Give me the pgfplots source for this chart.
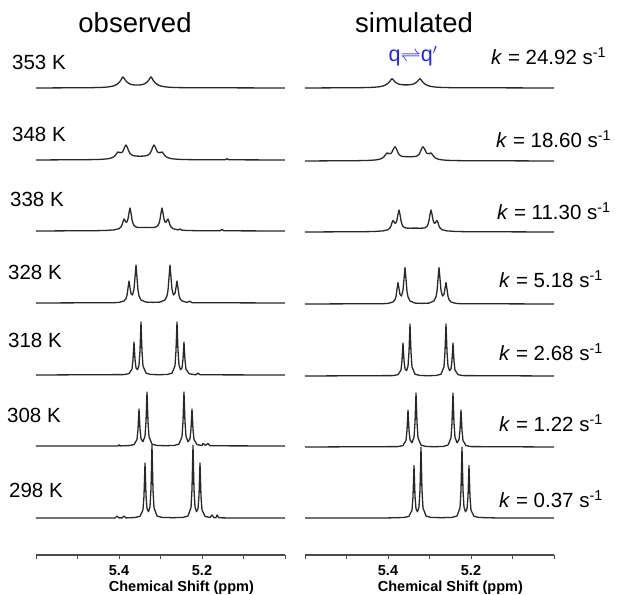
\documentclass[border=0pt]{standalone}
\usepackage{pgfplots}
\pgfplotsset{compat=1.18}
\usepackage{pgfplotstable}
\usepackage{fontspec}
\setmainfont{Liberation Sans}

\definecolor{trace}{RGB}{40,40,40}
\definecolor{qblue}{RGB}{35,35,245}

% ---------- observed spectra: shift (ppm), intensity above baseline ----------
\pgfplotstableread{
x y
5.600 0
5.4096 0
5.4048 2
5.4000 0.1
5.3928 0.1
5.3880 2
5.3831 0.1
5.3614 0.5
5.3494 1.7
5.3422 8.0
5.3398 21.8
5.3373 54.9
5.3349 22.4
5.3325 9.3
5.3289 6.3
5.3253 11.3
5.3229 29.0
5.3205 72.7
5.3181 28.6
5.3157 10.4
5.3084 2.0
5.2964 0.6
5.2711 0.3
5.2458 0.6
5.2337 2.0
5.2265 10.4
5.2241 28.6
5.2217 72.7
5.2193 29.0
5.2169 11.3
5.2133 6.3
5.2096 9.3
5.2072 22.4
5.2048 54.9
5.2024 21.8
5.2000 8.0
5.1928 1.7
5.1807 0.5
5.1759 3
5.1711 0.3
5.1663 0.3
5.1639 3
5.1590 0.2
5.1446 0.1
5.000 0
}\oA
\pgfplotstableread{
x y
5.600 0
5.4024 0
5.4000 1.2
5.3976 0.1
5.3759 0.4
5.3639 1.4
5.3566 6.5
5.3542 16.7
5.3518 37.0
5.3494 17.1
5.3470 7.3
5.3422 4.3
5.3373 9.8
5.3349 24.5
5.3325 54.0
5.3301 24.3
5.3277 9.3
5.3205 1.9
5.3084 0.5
5.2879 0.3
5.2675 0.5
5.2554 1.9
5.2482 9.3
5.2458 24.3
5.2434 54.0
5.2410 24.5
5.2386 9.8
5.2337 4.3
5.2289 7.3
5.2265 17.1
5.2241 37.0
5.2217 16.7
5.2193 6.5
5.2120 1.4
5.2000 0.4
5.1976 2.5
5.1916 0.7
5.1855 2.5
5.1807 0.2
5.000 0
}\oB
\pgfplotstableread{
x y
5.600 0
5.3880 0.4
5.3759 1.3
5.3687 5.9
5.3663 15.1
5.3639 33.0
5.3614 15.6
5.3590 7.1
5.3554 5.3
5.3518 9.8
5.3494 24.2
5.3470 53.0
5.3446 23.9
5.3422 9.1
5.3349 1.8
5.3229 0.5
5.3036 0.3
5.2843 0.5
5.2723 1.8
5.2651 9.1
5.2627 23.9
5.2602 53.0
5.2578 24.2
5.2554 9.8
5.2518 5.3
5.2482 7.1
5.2458 15.6
5.2434 33.0
5.2410 15.1
5.2386 5.9
5.2313 1.3
5.2193 0.4
5.2145 0.2
5.2096 2
5.2048 0.2
5.000 0
}\oC
\pgfplotstableread{
x y
5.600 0
5.4120 0.3
5.4000 0.6
5.3880 2.0
5.3831 4.4
5.3807 7.7
5.3783 14.7
5.3759 22.0
5.3735 15.5
5.3711 9.5
5.3675 8.0
5.3639 13.7
5.3614 25.7
5.3590 38.0
5.3566 25.2
5.3542 12.7
5.3518 7.1
5.3470 3.0
5.3349 0.9
5.3181 0.6
5.3012 0.9
5.2892 3.0
5.2843 7.1
5.2819 12.7
5.2795 25.2
5.2771 38.0
5.2747 25.7
5.2723 13.7
5.2687 8.0
5.2651 9.5
5.2627 15.5
5.2602 22.0
5.2578 14.7
5.2554 7.7
5.2530 4.4
5.2482 2.0
5.2361 0.6
5.2289 1.8
5.2241 0.3
5.000 0
}\oD
\pgfplotstableread{
x y
5.600 0
5.4578 0.3
5.4337 0.5
5.4120 1.1
5.4000 2.3
5.3952 4.1
5.3928 6.0
5.3904 9.3
5.3880 12.0
5.3855 10.5
5.3831 8.7
5.3807 9.1
5.3783 12.1
5.3759 18.3
5.3735 23.0
5.3711 18.0
5.3687 11.4
5.3663 7.6
5.3639 5.6
5.3590 4.0
5.3542 3.6
5.3470 3.5
5.3349 3.6
5.3229 3.5
5.3157 3.6
5.3108 4.0
5.3060 5.6
5.3036 7.6
5.3012 11.4
5.2988 18.0
5.2964 23.0
5.2940 18.3
5.2916 12.1
5.2892 9.1
5.2867 8.7
5.2843 10.5
5.2819 12.0
5.2795 9.3
5.2771 6.0
5.2747 4.1
5.2699 2.3
5.2578 1.1
5.2530 2.0
5.2482 0.8
5.2361 0.5
5.2120 0.3
5.1566 0.2
5.1518 1.5
5.1470 0.2
5.000 0
}\oE
\pgfplotstableread{
x y
5.600 0
5.4699 0.35
5.4458 0.6
5.4313 1.0
5.4217 1.6
5.4145 2.7
5.4096 4.3
5.4072 5.6
5.4048 7.0
5.4024 8.0
5.4000 7.8
5.3976 7.3
5.3928 7.6
5.3904 8.9
5.3880 11.1
5.3855 13.6
5.3831 15.0
5.3807 13.5
5.3783 10.8
5.3759 8.4
5.3735 6.6
5.3687 4.9
5.3639 4.2
5.3566 3.9
5.3494 3.8
5.3422 3.9
5.3349 4.2
5.3301 4.9
5.3253 6.6
5.3229 8.4
5.3205 10.8
5.3181 13.5
5.3157 15.0
5.3133 13.6
5.3108 11.1
5.3084 8.9
5.3060 7.6
5.3012 7.3
5.2988 7.8
5.2964 8.0
5.2940 7.0
5.2916 5.6
5.2892 4.3
5.2843 2.7
5.2771 1.6
5.2675 1.0
5.2530 0.6
5.2289 0.35
5.1446 0.2
5.1398 1.2
5.1349 0.2
5.000 0
}\oF
\pgfplotstableread{
x y
5.600 0
5.4699 0.3
5.4458 0.5
5.4313 0.85
5.4217 1.3
5.4120 2.2
5.4048 3.7
5.4000 5.4
5.3976 6.6
5.3952 8.0
5.3928 9.8
5.3904 11.1
5.3880 9.9
5.3855 8.3
5.3831 6.95
5.3807 5.9
5.3759 4.4
5.3711 3.6
5.3663 3.2
5.3614 3.0
5.3566 3.0
5.3518 3.0
5.3470 3.2
5.3422 3.6
5.3373 4.4
5.3325 5.9
5.3301 6.95
5.3277 8.3
5.3253 9.9
5.3229 11.1
5.3205 9.8
5.3181 8.0
5.3157 6.6
5.3133 5.4
5.3084 3.7
5.3012 2.2
5.2916 1.3
5.2819 0.85
5.2675 0.5
5.2434 0.3
5.000 0
}\oG

% ---------- simulated spectra ----------
\pgfplotstableread{
x y
5.600 0
5.3976 0.1
5.3614 0.5
5.3494 1.7
5.3422 7.8
5.3398 21.0
5.3373 52.5
5.3349 21.6
5.3325 9.1
5.3289 6.2
5.3253 11.0
5.3229 28.2
5.3205 70.8
5.3181 27.8
5.3157 10.1
5.3084 2.0
5.2964 0.6
5.2711 0.3
5.2458 0.6
5.2337 2.0
5.2265 10.1
5.2241 27.8
5.2217 70.8
5.2193 28.2
5.2169 11.0
5.2133 6.2
5.2096 9.1
5.2072 21.6
5.2048 52.5
5.2024 21.0
5.2000 7.8
5.1928 1.7
5.1807 0.5
5.1446 0.1
5.000 0
}\sA
\pgfplotstableread{
x y
5.600 0
5.3759 0.4
5.3639 1.4
5.3566 6.5
5.3542 16.7
5.3518 37.0
5.3494 17.1
5.3470 7.3
5.3422 4.3
5.3373 9.8
5.3349 24.5
5.3325 54.0
5.3301 24.3
5.3277 9.3
5.3205 1.9
5.3084 0.5
5.2879 0.3
5.2675 0.5
5.2554 1.9
5.2482 9.3
5.2458 24.3
5.2434 54.0
5.2410 24.5
5.2386 9.8
5.2337 4.3
5.2289 7.3
5.2265 17.1
5.2241 37.0
5.2217 16.7
5.2193 6.5
5.2120 1.4
5.2000 0.4
5.000 0
}\sB
\pgfplotstableread{
x y
5.600 0
5.3880 0.4
5.3759 1.3
5.3687 5.9
5.3663 15.1
5.3639 33.0
5.3614 15.6
5.3590 7.1
5.3554 5.3
5.3518 9.8
5.3494 24.2
5.3470 52.0
5.3446 23.9
5.3422 9.1
5.3349 1.8
5.3229 0.5
5.3036 0.3
5.2843 0.5
5.2723 1.8
5.2651 9.1
5.2627 23.9
5.2602 52.0
5.2578 24.2
5.2554 9.8
5.2518 5.3
5.2482 7.1
5.2458 15.6
5.2434 33.0
5.2410 15.1
5.2386 5.9
5.2313 1.3
5.2193 0.4
5.000 0
}\sC
\pgfplotstableread{
x y
5.600 0
5.4120 0.3
5.4000 0.6
5.3880 2.0
5.3831 4.4
5.3807 7.7
5.3783 14.7
5.3759 21.5
5.3735 15.5
5.3711 9.5
5.3675 8.0
5.3639 13.7
5.3614 25.2
5.3590 36.5
5.3566 24.8
5.3542 12.7
5.3518 7.1
5.3470 3.0
5.3349 0.9
5.3181 0.6
5.3012 0.9
5.2892 3.0
5.2843 7.1
5.2819 12.7
5.2795 24.8
5.2771 36.5
5.2747 25.2
5.2723 13.7
5.2687 8.0
5.2651 9.5
5.2627 15.5
5.2602 21.5
5.2578 14.7
5.2554 7.7
5.2530 4.4
5.2482 2.0
5.2361 0.6
5.2241 0.3
5.000 0
}\sD
\pgfplotstableread{
x y
5.600 0
5.4578 0.3
5.4337 0.5
5.4120 1.1
5.4000 2.3
5.3952 4.1
5.3928 6.0
5.3904 9.3
5.3880 11.5
5.3855 10.3
5.3831 8.7
5.3807 9.1
5.3783 12.1
5.3759 18.0
5.3735 22.0
5.3711 17.6
5.3687 11.4
5.3663 7.6
5.3639 5.6
5.3590 4.2
5.3542 3.9
5.3470 3.8
5.3349 3.9
5.3229 3.8
5.3157 3.9
5.3108 4.2
5.3060 5.6
5.3036 7.6
5.3012 11.4
5.2988 17.6
5.2964 22.0
5.2940 18.0
5.2916 12.1
5.2892 9.1
5.2867 8.7
5.2843 10.3
5.2819 11.5
5.2795 9.3
5.2771 6.0
5.2747 4.1
5.2699 2.3
5.2578 1.1
5.2361 0.5
5.2120 0.3
5.000 0
}\sE
\pgfplotstableread{
x y
5.600 0
5.4699 0.35
5.4458 0.6
5.4313 1.0
5.4217 1.6
5.4145 2.7
5.4096 4.3
5.4072 5.6
5.4048 7.0
5.4024 8.0
5.4000 7.8
5.3976 7.3
5.3928 7.6
5.3904 8.9
5.3880 11.1
5.3855 13.0
5.3831 14.2
5.3807 13.0
5.3783 10.8
5.3759 8.4
5.3735 6.6
5.3687 5.0
5.3639 4.5
5.3566 4.3
5.3494 4.2
5.3422 4.3
5.3349 4.5
5.3301 5.0
5.3253 6.6
5.3229 8.4
5.3205 10.8
5.3181 13.0
5.3157 14.2
5.3133 13.0
5.3108 11.1
5.3084 8.9
5.3060 7.6
5.3012 7.3
5.2988 7.8
5.2964 8.0
5.2940 7.0
5.2916 5.6
5.2892 4.3
5.2843 2.7
5.2771 1.6
5.2675 1.0
5.2530 0.6
5.2289 0.35
5.000 0
}\sF
\pgfplotstableread{
x y
5.600 0
5.4699 0.3
5.4458 0.5
5.4313 0.8
5.4217 1.2
5.4120 2.0
5.4048 3.3
5.4000 4.7
5.3976 5.7
5.3952 6.9
5.3928 8.3
5.3904 9.3
5.3880 8.5
5.3855 7.3
5.3831 6.2
5.3807 5.4
5.3759 4.2
5.3711 3.6
5.3663 3.3
5.3614 3.1
5.3566 3.1
5.3518 3.1
5.3470 3.3
5.3422 3.6
5.3373 4.2
5.3325 5.4
5.3301 6.2
5.3277 7.3
5.3253 8.5
5.3229 9.3
5.3205 8.3
5.3181 6.9
5.3157 5.7
5.3133 4.7
5.3084 3.3
5.3012 2.0
5.2916 1.2
5.2819 0.8
5.2675 0.5
5.2434 0.3
5.000 0
}\sG

\pgfplotsset{
  nmr/.style={
    scale only axis, width=249bp, height=555bp,
    xmin=5.0, xmax=5.6, x dir=reverse, ymin=40, ymax=595,
    axis x line*=bottom, axis y line=none, clip=false,
    xtick={5.2,5.4}, xticklabels={5.2,5.4},
    minor xtick={5.0,5.1,5.3,5.5,5.6},
    tick align=outside, major tick length=3.5bp, minor tick length=3.5bp,
    tick style={black!70, line width=0.9bp},
    axis line style={black!70, line width=1.1bp},
    xticklabel style={font=\bfseries\fontsize{14.5bp}{16bp}\selectfont, anchor=base, yshift=-17bp},
    xlabel={Chemical Shift (ppm)},
    xlabel style={at={(axis description cs:0.584,0)}, anchor=base, yshift=-36.7bp,
      font=\bfseries\fontsize{14.5bp}{16bp}\selectfont},
  },
  spec/.style={trace, line width=1.3bp, line join=round, no marks},
}

\begin{document}
\begin{tikzpicture}
\useasboundingbox (0,0) rectangle (617bp,595bp);

% observed
\begin{axis}[nmr, at={(36bp,40bp)}, anchor=south west]
\addplot[spec] table[x=x, y expr=\thisrow{y}+77]  {\oA};
\addplot[spec] table[x=x, y expr=\thisrow{y}+149] {\oB};
\addplot[spec] table[x=x, y expr=\thisrow{y}+220] {\oC};
\addplot[spec] table[x=x, y expr=\thisrow{y}+292] {\oD};
\addplot[spec] table[x=x, y expr=\thisrow{y}+364] {\oE};
\addplot[spec] table[x=x, y expr=\thisrow{y}+435] {\oF};
\addplot[spec] table[x=x, y expr=\thisrow{y}+507] {\oG};
\end{axis}

% simulated
\begin{axis}[nmr, at={(305bp,40bp)}, anchor=south west]
\addplot[spec] table[x=x, y expr=\thisrow{y}+77]  {\sA};
\addplot[spec] table[x=x, y expr=\thisrow{y}+148] {\sB};
\addplot[spec] table[x=x, y expr=\thisrow{y}+219] {\sC};
\addplot[spec] table[x=x, y expr=\thisrow{y}+291] {\sD};
\addplot[spec] table[x=x, y expr=\thisrow{y}+363] {\sE};
\addplot[spec] table[x=x, y expr=\thisrow{y}+434] {\sF};
\addplot[spec] table[x=x, y expr=\thisrow{y}+507] {\sG};
\end{axis}

% panel titles
\node[anchor=base, font=\fontsize{27.5bp}{30bp}\selectfont] at (135bp,562bp) {observed};
\node[anchor=base, font=\fontsize{27.5bp}{30bp}\selectfont] at (414bp,562bp) {simulated};
\node[anchor=base, text=qblue, font=\fontsize{21.5bp}{23bp}\selectfont] at (413bp,533bp) {q$\rightleftharpoons$q$'$};

% temperatures
\begin{scope}[every node/.style={anchor=base west, inner sep=0pt, font=\fontsize{20.5bp}{22bp}\selectfont}]
\node at (12bp,525bp) {353 K};
\node at (12bp,453bp) {348 K};
\node at (10bp,388bp) {338 K};
\node at (8bp,315bp)  {328 K};
\node at (8bp,247bp)  {318 K};
\node at (7bp,172bp)  {308 K};
\node at (9bp,97bp)   {298 K};
\end{scope}

% exchange rates
\begin{scope}[every node/.style={anchor=base west, inner sep=0pt, font=\fontsize{20.5bp}{22bp}\selectfont}]
\node at (491bp,530bp) {\textit{k} = 24.92 s\textsuperscript{-1}};
\node at (496bp,447bp) {\textit{k} = 18.60 s\textsuperscript{-1}};
\node at (497bp,375bp) {\textit{k} = 11.30 s\textsuperscript{-1}};
\node at (499bp,307bp) {\textit{k} = 5.18 s\textsuperscript{-1}};
\node at (499bp,234bp) {\textit{k} = 2.68 s\textsuperscript{-1}};
\node at (499bp,163bp) {\textit{k} = 1.22 s\textsuperscript{-1}};
\node at (499bp,87bp)  {\textit{k} = 0.37 s\textsuperscript{-1}};
\end{scope}
\end{tikzpicture}
\end{document}
